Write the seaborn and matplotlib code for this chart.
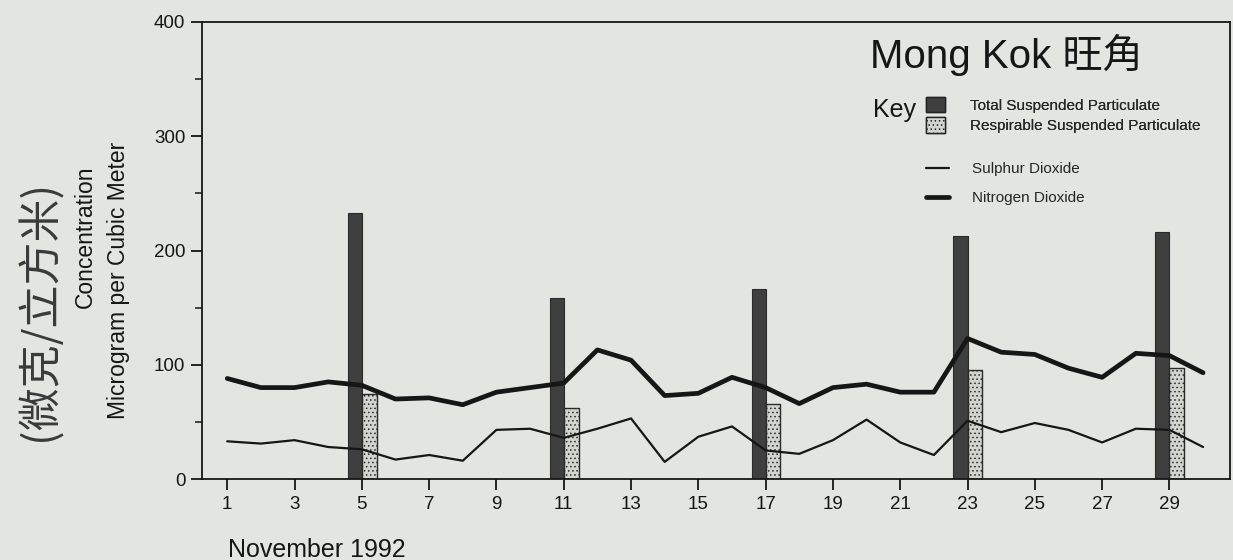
import matplotlib
matplotlib.use("Agg")
import matplotlib.pyplot as plt
from matplotlib.patches import Patch
from matplotlib.lines import Line2D
from matplotlib.ticker import MultipleLocator
import seaborn as sns

# Data (November 1992, microgram per cubic metre)
days = list(range(1, 31))
no2 = [88, 80, 80, 85, 82, 70, 71, 65, 76, 80, 84, 113, 104, 73, 75, 89, 80, 66,
       80, 83, 76, 76, 123, 111, 109, 97, 89, 110, 108, 93]
so2 = [33, 31, 34, 28, 26, 17, 21, 16, 43, 44, 36, 44, 53, 15, 37, 46, 25, 22,
       34, 52, 32, 21, 51, 41, 49, 43, 32, 44, 43, 28]
sample_days = [5, 11, 17, 23, 29]
tsp = [233, 158, 166, 213, 216]
rsp = [74, 62, 66, 95, 97]
tick_days = [1, 3, 5, 7, 9, 11, 13, 15, 17, 19, 21, 23, 25, 27, 29]

PAPER = "#e3e5e1"
INK = "#161616"
TSP_COLOR = "#3f3f3f"
RSP_COLOR = "#d2d4d0"

sns.set_theme(style="ticks")
plt.rcParams["font.family"] = ["Liberation Sans", "Noto Sans CJK TC", "DejaVu Sans"]
plt.rcParams["hatch.linewidth"] = 0.6

W, H = 1233, 560
fig = plt.figure(figsize=(W / 100, H / 100), dpi=100, facecolor=PAPER)
ax = fig.add_axes([202 / W, 1 - 479 / H, (1230 - 202) / W, (479 - 22) / H])
ax.set_facecolor(PAPER)

# bars: total suspended just left of the day, respirable just right of it
ax.bar(sample_days, tsp, width=-0.42, align="edge", color=TSP_COLOR,
       edgecolor="#2b2b2b", linewidth=0.8, zorder=2)
ax.bar(sample_days, rsp, width=0.44, align="edge", color=RSP_COLOR,
       edgecolor="#2a2a2a", linewidth=1.0, hatch="....", zorder=2)

sns.lineplot(x=days, y=so2, ax=ax, color=INK, linewidth=1.6, zorder=3)
sns.lineplot(x=days, y=no2, ax=ax, color=INK, linewidth=3.4, zorder=3)

ax.set_xlim(0.25, 30.8)
ax.set_ylim(0, 400)
ax.set_xticks(tick_days)
ax.set_xticklabels([str(d) for d in tick_days])
ax.yaxis.set_major_locator(MultipleLocator(100))
ax.yaxis.set_minor_locator(MultipleLocator(50))
ax.tick_params(axis="both", which="major", direction="out", length=8, width=1.3,
               color=INK, labelsize=13.5, labelcolor=INK, pad=4)
ax.tick_params(axis="y", which="minor", direction="out", length=5, width=1.1, color=INK)
for side in ["left", "right", "top", "bottom"]:
    ax.spines[side].set_color(INK)
    ax.spines[side].set_linewidth(1.3)
ax.set_xlabel("")
ax.set_ylabel("")

# axis titles
fig.text(228 / W, 1 - 557 / H, "November 1992", fontsize=18, color=INK,
         ha="left", va="baseline")
fig.text(85 / W, 1 - 237 / H, "Concentration", fontsize=16.5, color=INK,
         rotation=90, ha="center", va="center")
fig.text(118 / W, 1 - 280 / H, "Microgram per Cubic Meter", fontsize=16.5,
         color=INK, rotation=90, ha="center", va="center")
fig.text(40 / W, 1 - 310 / H, "(微克/立方米)", fontsize=31, color="#3a3a3a",
         rotation=90, ha="center", va="center",
         family=["Noto Sans CJK TC", "DejaVu Sans"])

# title and key
fig.text(870 / W, 1 - 68 / H, "Mong Kok 旺角", fontsize=29, color=INK,
         ha="left", va="baseline")
fig.text(873 / W, 1 - 117 / H, "Key", fontsize=18, color=INK,
         ha="left", va="baseline")

bar_handles = [
    Patch(facecolor=TSP_COLOR, edgecolor="#222222", linewidth=1.0,
          label="Total Suspended Particulate"),
    Patch(facecolor=RSP_COLOR, edgecolor="#222222", linewidth=1.0, hatch="....",
          label="Respirable Suspended Particulate"),
]
leg1 = fig.legend(handles=bar_handles, loc="upper left",
                  bbox_to_anchor=(926 / W, 1 - 97 / H), frameon=False,
                  fontsize=11, handlelength=1.25, handleheight=1.15,
                  handletextpad=1.6, labelspacing=0.3, borderpad=0,
                  borderaxespad=0)
line_handles = [
    Line2D([], [], color=INK, linewidth=1.6, label="Sulphur Dioxide"),
    Line2D([], [], color=INK, linewidth=3.4, label="Nitrogen Dioxide"),
]
leg2 = fig.legend(handles=line_handles, loc="upper left",
                  bbox_to_anchor=(926 / W, 1 - 162 / H), frameon=False,
                  fontsize=11, handlelength=1.5, handletextpad=1.5,
                  labelspacing=1.0, borderpad=0, borderaxespad=0)
fig.add_artist(leg1)

fig.savefig("out.png", dpi=100, facecolor=PAPER)
